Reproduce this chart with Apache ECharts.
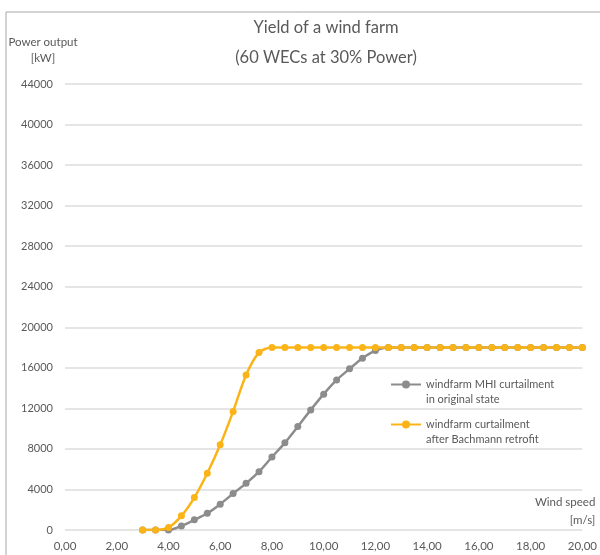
<!DOCTYPE html>
<html>
<head>
<meta charset="utf-8">
<script src="https://cdn.jsdelivr.net/npm/echarts@6/dist/echarts.min.js"></script>
<style>
  html, body { margin: 0; padding: 0; background: #fff; }
  #chart { width: 600px; height: 555px; }
</style>
</head>
<body>
<div id="chart"></div>
<script>
// wind speed in m/s, one point every 0.5
const windSpeed = [3, 3.5, 4, 4.5, 5, 5.5, 6, 6.5, 7, 7.5, 8, 8.5, 9, 9.5, 10, 10.5,
  11, 11.5, 12, 12.5, 13, 13.5, 14, 14.5, 15, 15.5, 16, 16.5, 17, 17.5, 18, 18.5, 19, 19.5, 20];

// power output in kW
const mhiOriginal = [0, 0, 0, 400, 1000, 1650, 2550, 3600, 4600, 5750, 7200, 8600, 10200, 11850,
  13400, 14800, 15900, 16950, 17700, 18000, 18000, 18000, 18000, 18000, 18000, 18000, 18000,
  18000, 18000, 18000, 18000, 18000, 18000, 18000, 18000];
const bachmannRetrofit = [0, 0, 250, 1400, 3200, 5600, 8400, 11700, 15300, 17500, 18000, 18000,
  18000, 18000, 18000, 18000, 18000, 18000, 18000, 18000, 18000, 18000, 18000, 18000, 18000,
  18000, 18000, 18000, 18000, 18000, 18000, 18000, 18000, 18000, 18000];

const seriesNames = ['windfarm MHI curtailment\nin original state',
  'windfarm curtailment\nafter Bachmann retrofit'];

const txt = '#595959';
const font = 'Lato';

const chart = echarts.init(document.getElementById('chart'));

const pairs = (ys) => windSpeed.map((x, i) => [x, ys[i]]);

chart.setOption({
  animation: false,
  textStyle: { fontFamily: font, color: txt },
  title: {
    text: 'Yield of a wind farm\n(60 WECs at 30% Power)',
    left: 321,
    top: 8,
    textAlign: 'center',
    textStyle: { fontFamily: font, fontSize: 16.5, fontWeight: 'normal', color: txt, lineHeight: 30 }
  },
  graphic: [{
    type: 'rect',
    shape: { x: 6, y: 12, width: 700, height: 600 },
    style: { fill: 'none', stroke: '#a6a6a6', lineWidth: 1 },
    silent: true
  }],
  legend: {
    orient: 'vertical',
    left: 385,
    top: 357,
    itemWidth: 30,
    itemHeight: 10,
    itemGap: -5,
    data: seriesNames,
    // blank first line so the marker lines up with the first text line
    formatter: (name) => '\n' + name,
    textStyle: { fontFamily: font, fontSize: 11, color: txt, lineHeight: 15 }
  },
  grid: { left: 65, right: 15, top: 84, bottom: 25 },
  xAxis: {
    type: 'value',
    min: 0, max: 20, interval: 2,
    name: 'Wind speed\n[m/s]',
    nameLocation: 'end',
    nameGap: 13,
    nameTextStyle: { fontFamily: font, fontSize: 11.5, color: txt, align: 'right', verticalAlign: 'bottom', lineHeight: 18, padding: [0, 0, 1, 0] },
    axisLine: { show: false },
    axisTick: { show: false },
    splitLine: { show: false },
    axisLabel: {
      margin: 10, fontSize: 11.5, color: txt, fontFamily: font,
      formatter: (v) => v.toFixed(2).replace('.', ',')
    }
  },
  yAxis: {
    type: 'value',
    min: 0, max: 44000, interval: 4000,
    name: 'Power output\n[kW]',
    nameLocation: 'end',
    nameGap: 18,
    nameTextStyle: { fontFamily: font, fontSize: 11.5, color: txt, align: 'center', lineHeight: 16, padding: [0, 44, 0, 0] },
    axisLine: { show: false },
    axisTick: { show: false },
    axisLabel: { margin: 12, fontSize: 11, color: txt, fontFamily: font, formatter: (v) => String(v) },
    splitLine: { lineStyle: { color: '#dcdcdc', width: 1.5 } }
  },
  series: [{
    name: seriesNames[0],
    type: 'line',
    data: pairs(mhiOriginal),
    smooth: 0.3,
    symbol: 'circle',
    symbolSize: 7,
    itemStyle: { color: '#8c8c8c' },
    lineStyle: { color: '#8c8c8c', width: 2.5 }
  }, {
    name: seriesNames[1],
    type: 'line',
    data: pairs(bachmannRetrofit),
    smooth: 0.3,
    symbol: 'circle',
    symbolSize: 7,
    itemStyle: { color: '#fbb418' },
    lineStyle: { color: '#fbb418', width: 2.5 }
  }]
});
</script>
</body>
</html>
